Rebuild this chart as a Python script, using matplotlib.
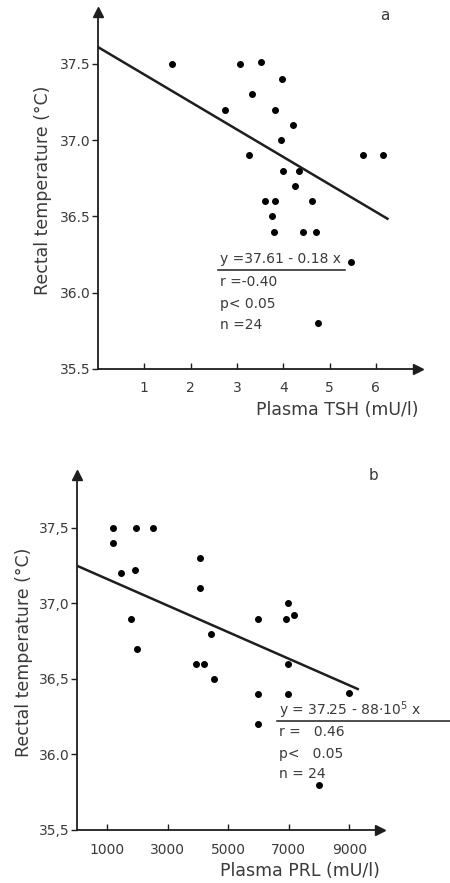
import matplotlib
matplotlib.use("Agg")
import matplotlib.pyplot as plt
import numpy as np

plt.rcParams['font.family'] = ['DejaVu Sans']
plt.rcParams['mathtext.default'] = 'regular'

# Panel a: TSH vs rectal temperature
tsh = [1.60, 3.07, 3.51, 3.98, 3.33, 2.74, 3.82, 4.21, 3.95, 3.26, 5.72, 6.16,
       4.00, 4.33, 4.25, 3.61, 3.82, 4.62, 3.76, 3.80, 4.43, 4.70, 5.46, 4.75]
temp_a = [37.5, 37.5, 37.51, 37.4, 37.3, 37.2, 37.2, 37.1, 37.0, 36.9, 36.9, 36.9,
          36.8, 36.8, 36.7, 36.6, 36.6, 36.6, 36.5, 36.4, 36.4, 36.4, 36.2, 35.8]
fit_a = (37.61, -0.18)
fit_a_range = (0.0, 6.25)

# Panel b: PRL vs rectal temperature
prl = [1185, 1185, 1953, 2512, 1459, 1920, 1788, 1997, 4059, 4059, 4443, 3949,
       4202, 4531, 5990, 5990, 5990, 6966, 6922, 7163, 6966, 6966, 9000, 8008]
temp_b = [37.5, 37.4, 37.5, 37.5, 37.2, 37.22, 36.9, 36.7, 37.3, 37.1, 36.8, 36.6,
          36.6, 36.5, 36.9, 36.4, 36.2, 37.0, 36.9, 36.92, 36.6, 36.4, 36.41, 35.8]
fit_b = (37.25, -8.8e-5)
fit_b_range = (0.0, 9280.0)

yticks = [35.5, 36.0, 36.5, 37.0, 37.5]
yticklabels_a = ["35.5", "36.0", "36.5", "37.0", "37.5"]
yticklabels_b = ["35,5", "36.0", "36,5", "37,0", "37,5"]
xticks_a = [1, 2, 3, 4, 5, 6]
xticks_b = [1000, 3000, 5000, 7000, 9000]

ink = '#1e1e1e'
txt = '#3a3a3a'

W, H = 450, 883
fig = plt.figure(figsize=(W / 100, H / 100), dpi=100)


def make_axes(left_px, right_px, top_px, bottom_px):
    return fig.add_axes([left_px / W, 1 - bottom_px / H,
                         (right_px - left_px) / W, (bottom_px - top_px) / H])


def style(ax, xlim, ylim, xticks, yticklabels, xlabel, letter, letter_pos,
          ylabelpad):
    ax.set_xlim(*xlim)
    ax.set_ylim(*ylim)
    for s in ('top', 'right'):
        ax.spines[s].set_visible(False)
    for s in ('left', 'bottom'):
        ax.spines[s].set_color(ink)
        ax.spines[s].set_linewidth(1.3)
    ax.set_yticks(yticks)
    ax.set_yticklabels(yticklabels)
    ax.set_xticks(xticks)
    ax.tick_params(axis='y', direction='out', length=4, width=1, color=ink,
                   labelsize=10, labelcolor=txt, pad=1)
    ax.tick_params(axis='x', direction='in', length=4, width=1, color=ink,
                   labelsize=10, labelcolor=txt, pad=9)
    ax.plot([0], [1], marker='^', color=ink, markersize=7, transform=ax.transAxes,
            clip_on=False)
    ax.plot([1], [0], marker='>', color=ink, markersize=7, transform=ax.transAxes,
            clip_on=False)
    ax.set_ylabel("Rectal temperature (°C)", fontsize=12.5, color=txt,
                  labelpad=ylabelpad)
    ax.set_xlabel(xlabel, fontsize=12.5, color=txt, loc='right', labelpad=4)
    ax.text(letter_pos[0], letter_pos[1], letter, transform=ax.transAxes,
            fontsize=11, color=txt, ha='center', va='center')


# ---- panel a ----
ax1 = make_axes(98, 418, 12, 369)
ax1.scatter(tsh, temp_a, s=16, color='black', zorder=3)
xa = np.array(fit_a_range)
ax1.plot(xa, fit_a[0] + fit_a[1] * xa, color=ink, lw=1.8)
style(ax1, (0, 6.91), (35.5, 37.84), xticks_a, yticklabels_a,
      "Plasma TSH (mU/l)", "a", ((385 - 98) / 320, (369 - 15) / 357), 6)
ax1.text(2.63, 36.22, "y =37.61 - 0.18 x", fontsize=10, color=txt, va='center')
ax1.plot([2.60, 5.33], [36.15, 36.15], color=ink, lw=1.1)
ax1.text(2.63, 36.07, "r =-0.40", fontsize=10, color=txt, va='center')
ax1.text(2.63, 35.925, "p< 0.05", fontsize=10, color=txt, va='center')
ax1.text(2.63, 35.79, "n =24", fontsize=10, color=txt, va='center')

# ---- panel b ----
ax2 = make_axes(76.7, 380, 475, 830)
ax2.scatter(prl, temp_b, s=16, color='black', zorder=3)
xb = np.array(fit_b_range)
ax2.plot(xb, fit_b[0] + fit_b[1] * xb, color=ink, lw=1.8)
style(ax2, (0, 10016), (35.5, 37.85), xticks_b, yticklabels_b,
      "Plasma PRL (mU/l)", "b", ((373 - 76.7) / 303.3, (830 - 475) / 355), 4)
ax2.text(6690, 36.29, "y = 37.25 - 88·10$^{5}$ x", fontsize=10, color=txt,
         va='center', clip_on=False)
ax2.plot([6627, 12400], [36.22, 36.22], color=ink, lw=1.1, clip_on=False)
ax2.text(6690, 36.15, "r =   0.46", fontsize=10, color=txt, va='center')
ax2.text(6690, 36.00, "p<   0.05", fontsize=10, color=txt, va='center')
ax2.text(6690, 35.87, "n = 24", fontsize=10, color=txt, va='center')

fig.savefig("out.png", dpi=100)
